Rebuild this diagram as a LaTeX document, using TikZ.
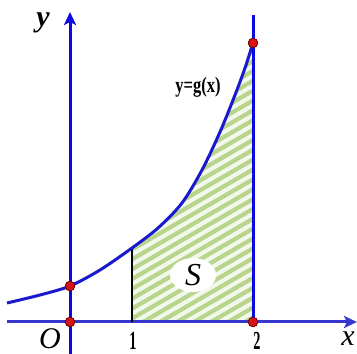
\documentclass[tikz,border=0pt]{standalone}
\usepackage{fontspec}
\setmainfont{Liberation Serif}
\usetikzlibrary{arrows.meta,shapes.geometric}
\definecolor{axisblue}{RGB}{10,10,225}
\definecolor{xaxisblue}{RGB}{55,55,205}
\definecolor{curveblue}{RGB}{25,25,205}
\definecolor{hatchgreen}{RGB}{185,212,140}
\definecolor{hatchpale}{RGB}{243,248,236}
\definecolor{dotred}{RGB}{215,20,20}

\begin{document}
\begin{tikzpicture}[x=1pt,y=1pt,
	axis/.style={line width=3pt,axisblue},
	axistip/.style={-{Stealth[length=13pt,width=12pt,inset=3pt]}},
	dot/.style={circle,fill=dotred,draw=red!45!black,line width=0.7pt,inner sep=0pt,minimum size=9.5pt},
	stripe/.style={line width=4.2pt,hatchgreen},
	lbl/.style={inner sep=0pt,font=\fontsize{30}{30}\selectfont\itshape},
	tick/.style={inner sep=0pt,xscale=0.55,font=\fontsize{26}{26}\selectfont\bfseries}]
%
	\useasboundingbox (0,0) rectangle (357,354);
%
	% shaded area
	\begin{scope}
		\clip (132,32) rectangle (253,354);
		\clip plot[smooth] coordinates {(7,51) (40,59) (70,68) (100,84) (132,106) (158,126) (182,151) (202,184) (220,222) (235,259) (245,286) (253,311)} -- (253,0) -- (7,0) -- cycle;
		\fill[hatchpale] (132,32) rectangle (253,320);
		\foreach \s in {-350,-333,...,260}
			\draw[stripe] (\s,32) -- ++(600,348);
	\end{scope}
	\node[ellipse,fill=white,minimum width=46pt,minimum height=34pt,inner sep=0pt,font=\fontsize{32}{32}\selectfont\itshape] (S) at (193,79) {S};
%
	% axes
	\coordinate (xs) at (7,32);
	\coordinate (xe) at (357,32);
	\coordinate (ys) at (70,0);
	\coordinate (ye) at (70,342);
	\draw[axis,xaxisblue,axistip] (xs) -- (xe);
	\draw[axis,axistip] (ys) -- (ye);
%
	% points
	\node[dot] (p0) at (70,32) {};
	\node[dot] (p1) at (70,68) {};
	\node[dot] (p2) at (253,32) {};
	\node[dot] (p3) at (253,311) {};
	\coordinate (a1) at (132,32);
	\coordinate (b1) at (132,106);
	\coordinate (t2) at (253,339);
%
	\draw[line width=1.4pt] (a1) -- (b1);
	\draw[axis] (p2.center) -- (t2);
	\draw[line width=3pt,curveblue] plot[smooth] coordinates {(7,51) (40,59) (70,68) (100,84) (132,106) (158,126) (182,151) (202,184) (220,222) (235,259) (245,286) (253,311)};
	\node[dot] at (p1) {};
	\node[dot] at (p3) {};
	\node[dot] at (p0) {};
	\node[dot] at (p2) {};
%
	% labels
	\node[lbl] (O) at (50,15) {O};
	\node[lbl] (xl) at (348,15) {x};
	\node[lbl,font=\fontsize{30}{30}\selectfont\bfseries\itshape] (yl) at (43,331) {y};
	\node[tick] (one) at (133,13) {1};
	\node[tick] (two) at (257,13) {2};
	\node[inner sep=0pt,xscale=0.75,font=\fontsize{22}{22}\selectfont\bfseries] (g) at (198,267) {y=g(x)};
%
\end{tikzpicture}
\end{document}
